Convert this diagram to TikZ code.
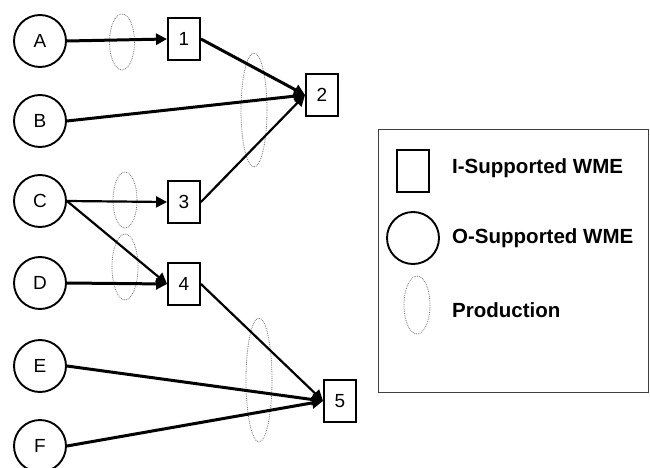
\documentclass[tikz,border=0pt]{standalone}
\usepackage{fontspec}
\setmainfont{Liberation Sans}
\usetikzlibrary{arrows.meta}
\begin{document}
\begin{tikzpicture}[x=1pt,y=-1pt,
  wme/.style={circle,draw=black,line width=1.9pt,minimum size=52pt,inner sep=0pt,font=\fontsize{19}{20}\selectfont},
  iwme/.style={rectangle,draw=black,line width=1.9pt,minimum width=32pt,minimum height=42pt,inner sep=0pt,font=\fontsize{19}{20}\selectfont},
  prod/.style={draw=black!55,densely dotted,line width=0.8pt},
  thk/.style={line width=3pt,-{Triangle[length=11pt,width=11pt]}},
  thn/.style={line width=2.2pt,-{Triangle[length=11pt,width=11pt]}},
  legtext/.style={anchor=west,inner sep=0pt,font=\bfseries\fontsize{20.5}{24}\selectfont}
]
\useasboundingbox (0,0) rectangle (650,468);
\clip (0,0) rectangle (650,468);
\fill[white] (0,0) rectangle (650,468);
% circles
\node[wme] (A) at (40,41) {A};
\node[wme] (B) at (40,121) {B};
\node[wme] (C) at (40,201) {C};
\node[wme] (D) at (40,283) {D};
\node[wme] (E) at (40,366) {E};
\node[wme] (F) at (40,446) {F};
% squares
\node[iwme] (n1) at (184,39) {1};
\node[iwme] (n2) at (322,95) {2};
\node[iwme] (n3) at (184,202) {3};
\node[iwme] (n4) at (184,284) {4};
\node[iwme] (n5) at (340,401) {5};
% productions
\draw[prod] (122,42) ellipse [x radius=12.5, y radius=28];
\draw[prod] (254,110) ellipse [x radius=13, y radius=57];
\draw[prod] (125,200) ellipse [x radius=12, y radius=28];
\draw[prod] (125,267) ellipse [x radius=13, y radius=33];
\draw[prod] (259,380) ellipse [x radius=13, y radius=62];
% connectors
\draw[thk] (A.east) -- (n1.west);
\draw[thk] (n1.east) -- (n2.west);
\draw[thk] (B.east) -- (n2.west);
\draw[thn] (n3.east) -- (n2.west);
\draw[thn] (C.east) -- (n3.west);
\draw[thn] (C.east) -- (n4.west);
\draw[thk] (D.east) -- (n4.west);
\draw[thn] (n4.east) -- (n5.west);
\draw[thk] (E.east) -- (n5.west);
\draw[thk] (F.east) -- (n5.west);
% legend
\node[draw=black!75,line width=1pt,minimum width=270pt,minimum height=262pt,inner sep=0pt] (leg) at (513,261) {};
\node[iwme] (lsq) at (413,171) {};
\node[wme] (lci) at (413,238) {};
\draw[prod] (417,305) ellipse [x radius=13, y radius=29];
\node[legtext] (t1) at (452,168) {I-Supported WME};
\node[legtext] (t2) at (452,238) {O-Supported WME};
\node[legtext] (t3) at (452,310) {Production};
\end{tikzpicture}
\end{document}
